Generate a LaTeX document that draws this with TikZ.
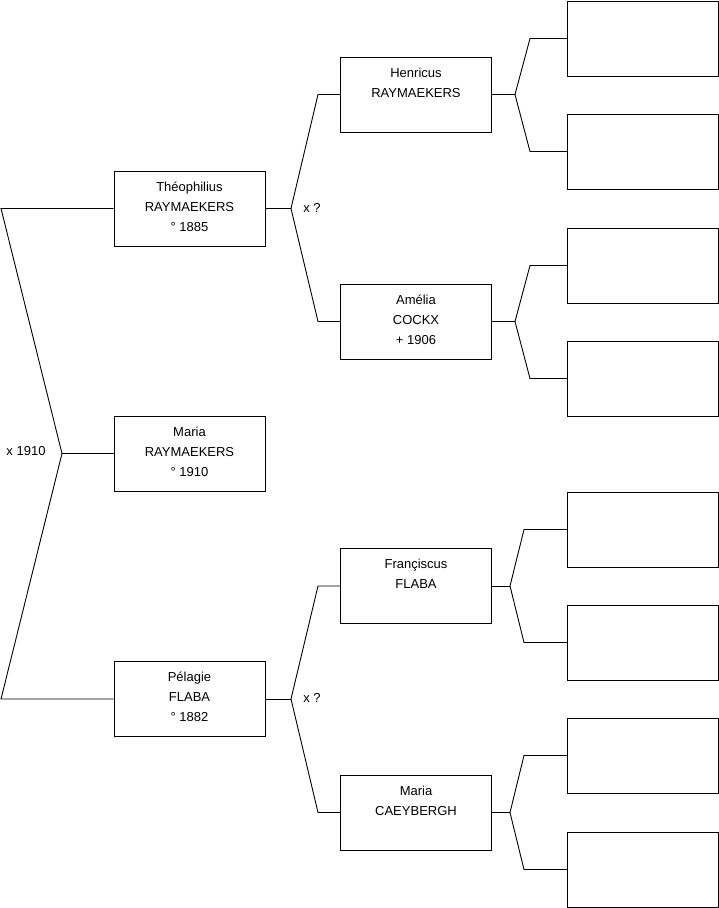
\documentclass[tikz,border=0pt]{standalone}
\usepackage{fontspec}
\setmainfont{Liberation Sans}
\begin{document}
\begin{tikzpicture}[x=1pt,y=-1pt,
  person/.style={draw=black,line width=0.9pt,rectangle,minimum width=151pt,minimum height=75pt,inner sep=0pt},
  txt/.style={anchor=north,align=center,inner sep=0pt,font=\fontsize{13}{20}\selectfont},
  lbl/.style={inner sep=0pt,font=\fontsize{13}{20}\selectfont},
  conn/.style={draw=black,line width=0.9pt}]
\useasboundingbox (0,0) rectangle (719,908);
% generation 1
\node[person] (theo) at (189.5,208.5) {};
\node[person] (maria) at (189.5,453.5) {};
\node[person] (pel) at (189.5,699) {};
% generation 2
\node[person] (hen) at (416,94.5) {};
\node[person] (ame) at (416,321.5) {};
\node[person] (fra) at (416,586) {};
\node[person] (cae) at (416,812.5) {};
% generation 3
\node[person] (r1) at (643,38.5) {};
\node[person] (r2) at (643,151.5) {};
\node[person] (r3) at (643,265.5) {};
\node[person] (r4) at (643,378.5) {};
\node[person] (r5) at (643,529.5) {};
\node[person] (r6) at (643,642.5) {};
\node[person] (r7) at (643,755.5) {};
\node[person] (r8) at (643,869.5) {};
% texts
\node[txt] (ttheo) at ([yshift=-11pt]theo.north) {Théophilius\\RAYMAEKERS\\° 1885};
\node[txt] (tmaria) at ([yshift=-11pt]maria.north) {Maria\\RAYMAEKERS\\° 1910};
\node[txt] (tpel) at ([yshift=-11pt]pel.north) {Pélagie\\FLABA\\° 1882};
\node[txt] (then) at ([yshift=-11pt]hen.north) {Henricus\\RAYMAEKERS};
\node[txt] (tame) at ([yshift=-11pt]ame.north) {Amélia\\COCKX\\+ 1906};
\node[txt] (tfra) at ([yshift=-11pt]fra.north) {Françiscus\\FLABA};
\node[txt] (tcae) at ([yshift=-11pt]cae.north) {Maria\\CAEYBERGH};
\node[lbl] (x1) at (26,451) {x 1910};
\node[lbl] (x2) at (312,208) {x ?};
\node[lbl] (x3) at (312,698) {x ?};
% junction coordinates
\coordinate (jm) at (62,453.5);
\coordinate (ja) at (1,208.5);
\coordinate (jb) at (1,699);
\coordinate (jt) at (291,208.5);
\coordinate (jt1) at (318,94.5);
\coordinate (jt2) at (318,321.5);
\coordinate (jp) at (291,699);
\coordinate (jp1) at (318,586);
\coordinate (jp2) at (318,812.5);
\coordinate (jh) at (515,94.5);
\coordinate (jh1) at (530,38.5);
\coordinate (jh2) at (530,151.5);
\coordinate (ja2) at (515,321.5);
\coordinate (ja21) at (530,265.5);
\coordinate (ja22) at (530,378.5);
\coordinate (jf) at (510,586);
\coordinate (jf1) at (524,529.5);
\coordinate (jf2) at (524,642.5);
\coordinate (jc) at (510,812.5);
\coordinate (jc1) at (524,755.5);
\coordinate (jc2) at (524,869.5);
% connectors
\draw[conn] (maria.west) -- (jm);
\draw[conn] (theo.west) -- (ja) -- (jm) -- (jb) -- (pel.west);
\draw[conn] (theo.east) -- (jt);
\draw[conn] (hen.west) -- (jt1) -- (jt) -- (jt2) -- (ame.west);
\draw[conn] (pel.east) -- (jp);
\draw[conn] (fra.west) -- (jp1) -- (jp) -- (jp2) -- (cae.west);
\draw[conn] (hen.east) -- (jh);
\draw[conn] (r1.west) -- (jh1) -- (jh) -- (jh2) -- (r2.west);
\draw[conn] (ame.east) -- (ja2);
\draw[conn] (r3.west) -- (ja21) -- (ja2) -- (ja22) -- (r4.west);
\draw[conn] (fra.east) -- (jf);
\draw[conn] (r5.west) -- (jf1) -- (jf) -- (jf2) -- (r6.west);
\draw[conn] (cae.east) -- (jc);
\draw[conn] (r7.west) -- (jc1) -- (jc) -- (jc2) -- (r8.west);
\end{tikzpicture}
\end{document}
